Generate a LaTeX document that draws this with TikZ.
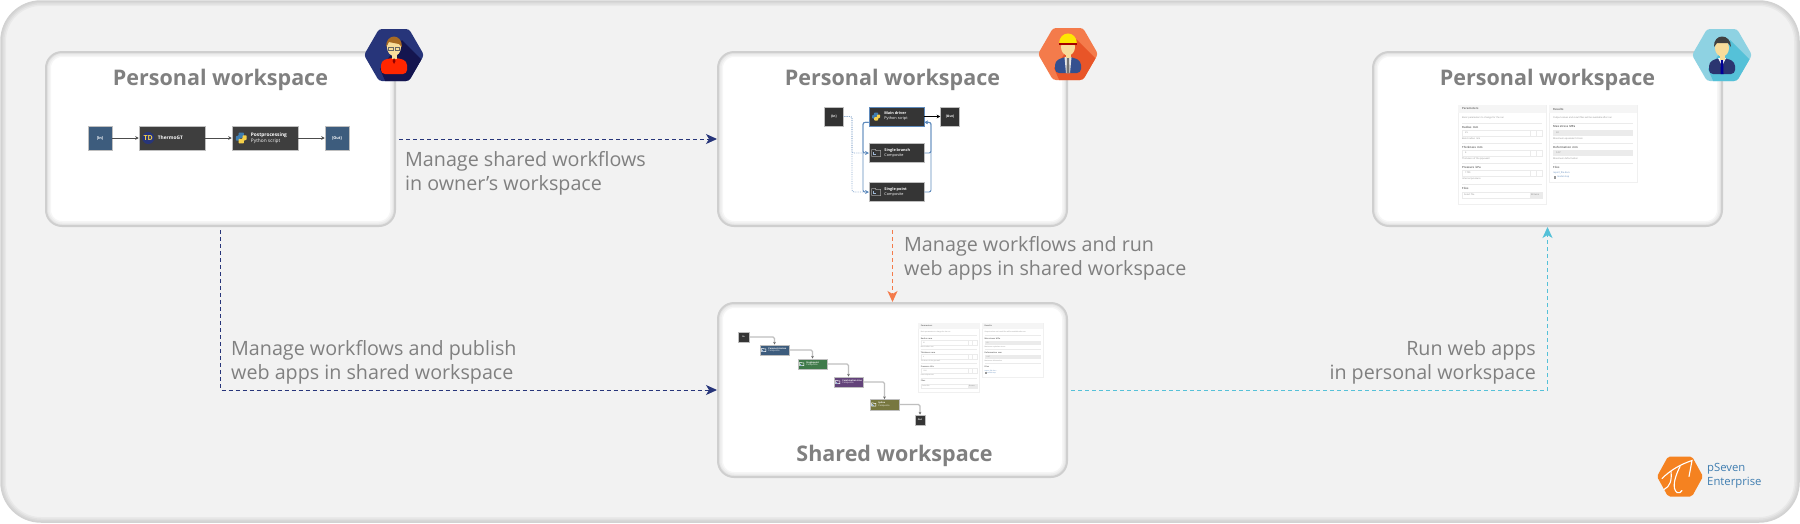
\documentclass[tikz,border=0pt]{standalone}
\usepackage{fontspec}
\setmainfont{Open Sans}
\usetikzlibrary{arrows.meta,shadows}
\definecolor{panelfill}{HTML}{F2F2F2}
\definecolor{paneledge}{HTML}{D2D2D2}
\definecolor{cardedge}{HTML}{CFCFCF}
\definecolor{labelgray}{HTML}{808080}
\definecolor{ownerblue}{HTML}{27357A}
\definecolor{ownerdark}{HTML}{14154F}
\definecolor{engorange}{HTML}{F47B4B}
\definecolor{engdark}{HTML}{E85528}
\definecolor{engsuit}{HTML}{34508F}
\definecolor{usercyan}{HTML}{8ED2E2}
\definecolor{userdark}{HTML}{55C1D8}
\definecolor{usersuit}{HTML}{2B3570}
\definecolor{skintone}{HTML}{F8DC9A}
\definecolor{hairbrown}{HTML}{A86A22}
\definecolor{portblue}{HTML}{3D5C7D}
\definecolor{blockdark}{HTML}{3E3E3E}
\definecolor{flowblue}{HTML}{5F8BBD}
\definecolor{pyyellow}{HTML}{F5D04A}
\definecolor{stepgreen}{HTML}{3F7A4A}
\definecolor{steppurple}{HTML}{63437A}
\definecolor{stepolive}{HTML}{77773F}
\definecolor{logoorange}{HTML}{F58220}
\definecolor{logoblue}{HTML}{3F7DB0}
\tikzset{
  x=1pt, y=-1pt,
  softedge/.style={path picture={
      \foreach \w in {10,7,4}
        \draw[black, opacity=0.035, line width=\w pt, rounded corners=#1]
          (path picture bounding box.north west) rectangle (path picture bounding box.south east);
    }},
  card/.style={draw=cardedge, line width=2pt, fill=white, rounded corners=16pt,
    minimum width=349pt, minimum height=174pt, inner sep=0pt, softedge=16pt},
  cardtitle/.style={text=labelgray, font=\fontsize{21.5}{25}\selectfont\bfseries, inner sep=0pt},
  steplabel/.style={text=labelgray, font=\fontsize{19.7}{24}\selectfont, inner sep=0pt},
  link/.style={line width=1pt, dash pattern=on 4pt off 3pt, -{Stealth[length=11pt,width=10pt,inset=3pt]}},
  miniport/.style={draw=white!75!black, line width=0.5pt, fill=portblue, text=white, inner sep=0pt,
    font=\fontsize{3.8}{4.5}\selectfont\bfseries},
  miniblock/.style={draw=white!75!black, line width=0.5pt, fill=blockdark, inner sep=0pt},
  blocktext/.style={text=white, inner sep=0pt, align=left, anchor=west},
  flow/.style={line width=0.7pt, black!70, -{Stealth[length=3.5pt,width=3.5pt]}},
  solidflow/.style={line width=0.9pt, flowblue, rounded corners=2pt, -{Stealth[length=3.5pt,width=3.5pt]}},
  dotflow/.style={line width=0.8pt, flowblue!70, densely dotted, rounded corners=2pt, -{Stealth[length=3.5pt,width=3.5pt]}},
  sharedflow/.style={line width=1.2pt, black!25, rounded corners=1.5pt, -{Stealth[length=2.5pt,width=2.5pt,black!60]}},
  formtext/.style={inner sep=0pt, anchor=west, font=\fontsize{2.3}{3}\selectfont, text=black!45},
  formhead/.style={formtext, font=\fontsize{2.8}{3}\selectfont\bfseries, text=black!55},
  pics/hexbadge/.style 2 args={code={
    \begin{scope}
      \clip[rounded corners=3pt] (-30,0) -- (-15,-26) -- (15,-26) -- (30,0) -- (15,26) -- (-15,26) -- cycle;
      \fill[#1] (-31,-27) rectangle (31,27);
      \fill[#2] (8,-15) -- (32,9) -- (32,28) -- (-8,28) -- (-14,14) -- cycle;
    \end{scope}
  }},
  pics/pyicon/.style={code={
    \fill[logoblue, rounded corners=0.8pt] (-2,-4) -- (2,-4) -- (2,0) -- (-1,0) -- (-1,2) -- (-4,2) -- (-4,-1.5) -- (-2,-1.5) -- cycle;
    \fill[pyyellow, rounded corners=0.8pt] (2,4) -- (-2,4) -- (-2,0.6) -- (1,0.6) -- (1,-2) -- (4,-2) -- (4,1.5) -- (2,1.5) -- cycle;
  }},
  pics/boxicon/.style={code={
    \draw[white, line width=0.45pt] (-4.5,-3.5) -- (-1,-3.5) -- (-0.3,-2.5) -- (4.5,-2.5) -- (4.5,3.5) -- (-4.5,3.5) -- cycle;
    \draw[flowblue!60!white, line width=0.45pt] (-3,-0.8) -- (-3,1.6) -- (0,1.6);
  }},
  % two cards of the web app, left top corner at the origin
  pics/webform/.style={code={
    \fill[white, draw=black!6, line width=0.3pt, drop shadow={shadow xshift=0pt,shadow yshift=-0.8pt,opacity=0.12}] (0,0) rectangle (88,99);
    \fill[white, draw=black!6, line width=0.3pt, drop shadow={shadow xshift=0pt,shadow yshift=-0.8pt,opacity=0.12}] (91,0) rectangle (179,77);
    \fill[black!4] (0,0) rectangle (88,8);
    \fill[black!4] (91,0) rectangle (179,8);
    \node[formhead] (-parhead) at (4,4) {Parameters};
    \node[formhead] (-reshead) at (95,4) {Results};
    \node[formtext] (-pardesc) at (4,13) {Basic parameters to change for the run};
    \node[formtext] (-resdesc) at (95,13) {Output values and result files will be available after run};
    \foreach \i/\y/\name/\val/\hint in {1/22/Radius\, mm/25/Bend radius\, mm, 2/42/Thickness\, mm/4/Thickness of the pipe wall, 3/62/Pressure\, kPa/1700/Internal pressure} {
      \draw[black!8, line width=0.3pt] (4,\y-4) -- (84,\y-4);
      \node[formhead] (-lab\i) at (4,\y) {\name};
      \draw[black!8, line width=0.3pt] (4,\y+3) rectangle (84,\y+9);
      \draw[black!8, line width=0.3pt] (72,\y+3) -- (72,\y+9) (78,\y+3) -- (78,\y+9);
      \node[formtext] (-val\i) at (7,\y+6) {\val};
      \node[formtext] (-hint\i) at (4,\y+12) {\hint};
    }
    \foreach \i/\y/\name/\val/\hint in {1/22/Max stress\, MPa/60/Maximum equivalent stress, 2/42/Deformation\, mm/0.07/Maximum deformation} {
      \draw[black!8, line width=0.3pt] (95,\y-4) -- (175,\y-4);
      \node[formhead] (-rlab\i) at (95,\y) {\name};
      \fill[black!8] (95,\y+3) rectangle (175,\y+9);
      \node[formtext] (-rval\i) at (98,\y+6) {\val};
      \node[formtext] (-rhint\i) at (95,\y+12) {\hint};
    }
    \draw[black!8, line width=0.3pt] (4,79) -- (84,79) (95,58) -- (175,58);
    \node[formhead] (-filesl) at (4,83) {Files};
    \draw[black!8, line width=0.3pt] (4,87) rectangle (84,93);
    \fill[black!8] (72,87) rectangle (84,93);
    \node[formtext] (-select) at (6,90) {Select file};
    \node[formtext] (-browse) at (73,90) {Browse};
    \node[formhead] (-filesr) at (95,62) {Files};
    \node[formtext, text=flowblue] (-report) at (95,68) {report\_file.docx};
    \node[formtext, text=flowblue] (-model) at (99,72) {model.step};
    \fill[black!40] (95.5,70.5) rectangle (98,73.5);
  }}
}
\begin{document}
\begin{tikzpicture}
  \useasboundingbox (0,0) rectangle (1800,523);
  \fill[white] (0,0) rectangle (1800,523);

  % Outer panel
  \node[draw=paneledge, line width=1.5pt, fill=panelfill, rounded corners=40pt, minimum width=1798pt, minimum height=521pt, inner sep=0pt, softedge=40pt] (panel) at (900,261.5) {};

  % Workspaces
  \node[card] (ownerspace) at (220.5,139) {};
  \node[card] (engspace) at (892.5,139) {};
  \node[card] (userspace) at (1547.5,139) {};
  \node[card] (sharedspace) at (892.5,390) {};

  \node[cardtitle] (ownertitle) at (ownerspace.center |- 0,79.5) {Personal workspace};
  \node[cardtitle] (engtitle) at (engspace.center |- 0,79.5) {Personal workspace};
  \node[cardtitle] (usertitle) at (userspace.center |- 0,79.5) {Personal workspace};
  \node[cardtitle] (sharedtitle) at (894.5,455.5) {Shared workspace};

  % Connectors
  \draw[link, ownerblue] ([xshift=3pt]ownerspace.east) -- (engspace.west);
  \draw[link, ownerblue] ([yshift=-3pt]ownerspace.south) |- (sharedspace.west);
  \draw[link, engorange] ([yshift=-3pt]engspace.south) -- (sharedspace.north);
  \draw[link, userdark] ([xshift=3pt]sharedspace.east) -| (userspace.south);

  % Connector labels
  \node[steplabel, anchor=west, align=left] (sharelabel) at (405,173) {Manage shared workflows\\in owner’s workspace};
  \node[steplabel, anchor=west, align=left] (runlabel) at (904,258.5) {Manage workflows and run\\web apps in shared workspace};
  \node[steplabel, anchor=west, align=left] (publishlabel) at (231,362) {Manage workflows and publish\\web apps in shared workspace};
  \node[steplabel, anchor=east, align=right] (webapplabel) at (1536,362) {Run web apps\\in personal workspace};

  % Owner flow
  \foreach \name/\x/\txt in {ownerin/100/[In], ownerout/337/[Out]}
    \node[miniport, minimum width=24pt, minimum height=24pt] (\name) at (\x,138) {\txt};
  \foreach \name/\x in {thermo/172, postproc/265}
    \node[miniblock, minimum width=66pt, minimum height=24pt] (\name) at (\x,138) {};
  \node[blocktext, font=\fontsize{4.8}{6}\selectfont\bfseries] (thermotext) at ([xshift=19pt]thermo.west) {ThermoGT};
  \node[blocktext, font=\fontsize{4.8}{6}\selectfont\bfseries] (posttext) at ([xshift=19pt]postproc.west) {Postprocessing\\\mdseries Python script};
  \node[circle, fill=ownerblue, minimum size=12pt, inner sep=0pt, text=pyyellow, font=\fontsize{7}{7}\selectfont\bfseries] (tdlogo) at ([xshift=9.5pt]thermo.west) {TD};
  \pic[scale=1.35] (postpy) at ([xshift=9.5pt]postproc.west) {pyicon};
  \draw[flow] (ownerin) -- (thermo);
  \draw[flow] (thermo) -- (postproc);
  \draw[flow] (postproc) -- (ownerout);

  % Engineer flow
  \foreach \name/\x/\txt in {engin/834/[In], engout/950/[Out]}
    \node[miniport, fill=blockdark!80!black, minimum width=19pt, minimum height=19pt, font=\fontsize{3.2}{4}\selectfont\bfseries] (\name) at (\x,116.5) {\txt};
  \node[miniblock, fill=blockdark!85!black, draw=flowblue, line width=0.8pt, minimum width=55pt, minimum height=19pt] (maindriver) at (896.5,116.5) {};
  \node[miniblock, fill=blockdark!85!black, minimum width=55pt, minimum height=19pt] (singlebranch) at (896.5,153) {};
  \node[miniblock, fill=blockdark!85!black, minimum width=55pt, minimum height=19pt] (singlepoint) at (896.5,192) {};
  \foreach \name/\txt/\sub in {maindriver/Main driver/Python script, singlebranch/Single branch/Composite, singlepoint/Single point/Composite}
    \node[blocktext, font=\fontsize{3.8}{5}\selectfont\bfseries] (\name text) at ([xshift=15.5pt]\name.west) {\txt\\\mdseries\sub};
  \pic (mainpy) at ([xshift=7.5pt]maindriver.west) {pyicon};
  \pic (branchbox) at ([xshift=7.5pt]singlebranch.west) {boxicon};
  \pic (pointbox) at ([xshift=7.5pt]singlepoint.west) {boxicon};

  \coordinate (engbusin) at (852,0);
  \coordinate (engbusleft) at (863,0);
  \coordinate (engbusright) at (931,0);
  \coordinate (mainexit) at ([yshift=4pt]maindriver.south west);
  \coordinate (mainback) at ([yshift=4pt]maindriver.south east);
  \draw[flow, black] (maindriver) -- (engout);
  \draw[dotflow] (engin.east) -| (engbusin |- singlebranch) -- (singlebranch.west);
  \draw[dotflow] (engin.east) -| (engbusin |- singlepoint) -- (singlepoint.west);
  \draw[solidflow] (mainexit) -| (engbusleft |- singlebranch) -- (singlebranch.west);
  \draw[solidflow] (mainexit) -| (engbusleft |- singlepoint) -- (singlepoint.west);
  \draw[solidflow] (singlebranch.east) -| (engbusright |- mainback) -- (mainback);
  \draw[solidflow] (singlepoint.east) -| (engbusright |- mainback) -- (mainback);

  % Shared flow
  \foreach \name/\x/\y/\txt in {sharedin/743.5/337/In, sharedout/920/420/Out}
    \node[miniport, fill=blockdark!85!black, minimum width=10.5pt, minimum height=10.5pt, font=\fontsize{2.2}{3}\selectfont\bfseries] (\name) at (\x,\y) {\txt};
  \foreach \name/\x/\y/\col/\txt in {stepa/774.5/350/portblue/Parametrization, stepb/812.5/364/stepgreen/Singlepoint, stepc/848.5/382/steppurple/Combination Line, stepd/884.5/404.5/stepolive/Spline} {
    \node[miniblock, fill=\col, minimum width=29pt, minimum height=10.5pt] (\name) at (\x,\y) {};
    \node[blocktext, font=\fontsize{2.2}{2.6}\selectfont\bfseries] (\name text) at ([xshift=8.5pt]\name.west) {\txt\\\mdseries Composite};
    \pic[scale=0.48] (\name icon) at ([xshift=4pt]\name.west) {boxicon};
  }
  \draw[sharedflow] (sharedin) -| (stepa);
  \draw[sharedflow] (stepa) -| (stepb);
  \draw[sharedflow] (stepb) -| (stepc);
  \draw[sharedflow] (stepc) -| (stepd);
  \draw[sharedflow] (stepd) -| (sharedout);

  % Web apps
  \pic (userform) at (1458,105) {webform};
  \pic[scale=0.70, transform shape] (sharedform) at (918,323) {webform};

  % Owner badge
  \pic (ownerhex) at (394,55) {hexbadge={ownerblue}{ownerdark}};
  \begin{scope}[shift={(394,55)}]
    \fill[orange!30!red, rounded corners=4pt] (-13,19) -- (-13,6) -- (-4,3) -- (4,3) -- (13,6) -- (13,19) -- cycle;
    \fill[skintone] (-2.5,-2) rectangle (2.5,4);
    \fill[skintone] (0,-8) ellipse (7pt and 9pt);
    \fill[hairbrown] (-8,-8) .. controls (-8,-22) and (8,-22) .. (8,-8) -- (5,-11) -- (-5,-13) -- cycle;
    \draw[black!60, line width=0.5pt] (-5.5,-7.5) rectangle (-1,-5) (1,-7.5) rectangle (5.5,-5);
    \fill[red!55!black] (0,3) -- (1.5,6) -- (0,9) -- (-1.5,6) -- cycle;
  \end{scope}

  % Engineer badge
  \pic (enghex) at (1068,54) {hexbadge={engorange}{engdark}};
  \begin{scope}[shift={(1068,54)}]
    \fill[engsuit, rounded corners=4pt] (-13,19) -- (-13,7) -- (-4,3) -- (4,3) -- (13,7) -- (13,19) -- cycle;
    \fill[white!90!black] (-3.5,3) -- (3.5,3) -- (2,19) -- (-2,19) -- cycle;
    \fill[black!55] (-1,3) -- (1,3) -- (1.5,19) -- (-1.5,19) -- cycle;
    \fill[skintone] (-2.5,-2) rectangle (2.5,4);
    \fill[skintone] (0,-7) ellipse (7pt and 8.5pt);
    \fill[yellow!90!orange] (-9,-10) .. controls (-9,-24) and (9,-24) .. (9,-10) -- cycle;
    \fill[red!65!black] (-9,-11) rectangle (9,-9);
  \end{scope}

  % User badge
  \pic (userhex) at (1722,55) {hexbadge={usercyan}{userdark}};
  \begin{scope}[shift={(1722,55)}]
    \fill[usersuit, rounded corners=4pt] (-13,19) -- (-13,7) -- (-4,3) -- (4,3) -- (13,7) -- (13,19) -- cycle;
    \fill[white] (-4,3) -- (4,3) -- (0,11) -- cycle;
    \fill[blue!60!black] (-1,4) -- (1,4) -- (1.5,19) -- (-1.5,19) -- cycle;
    \fill[skintone] (-2.5,-2) rectangle (2.5,5);
    \fill[skintone] (0,-7) ellipse (7pt and 8.5pt);
    \fill[black!75] (-8,-8) .. controls (-9,-22) and (9,-22) .. (9,-8) -- (6,-12) -- (-5,-12) -- cycle;
  \end{scope}

  % Logo
  \begin{scope}[shift={(1680,476.5)}]
    \fill[logoorange, rounded corners=2pt] (-23,0) -- (-12,-20) -- (12,-20) -- (23,0) -- (12,20) -- (-12,20) -- cycle;
    \draw[white, line width=1.1pt, line cap=round] (-18,2) .. controls (-10,-6) and (0,-12) .. (12,-16) -- (9,0);
    \draw[white, line width=1.1pt, line cap=round] (-9,-5) .. controls (-8,4) and (-10,10) .. (-16,13);
    \draw[white, line width=1.1pt, line cap=round] (0,-10) .. controls (-6,2) and (-8,12) .. (-3,16) .. controls (-1,17) and (1,16) .. (2,14);
  \end{scope}
  \node[inner sep=0pt, anchor=west, align=left, text=logoblue, font=\fontsize{11.3}{14}\selectfont] (logotext) at (1707,476) {pSeven\\Enterprise};
\end{tikzpicture}
\end{document}
